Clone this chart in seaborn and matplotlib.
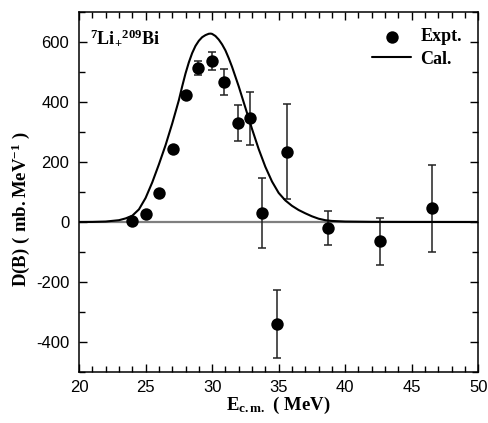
import numpy as np
import pandas as pd
import matplotlib
matplotlib.use("Agg")
import matplotlib.pyplot as plt
import seaborn as sns
from matplotlib.ticker import MultipleLocator

# Experimental points
expt_x = [24.0, 25.04, 26.04, 27.04, 28.02, 28.97, 29.97, 30.9, 31.95, 32.88,
          33.76, 34.86, 35.66, 38.74, 42.63, 46.56]
expt_y = [3, 27, 96, 245, 422, 513, 536, 466, 331, 346,
          30, -339, 235, -20, -65, 45]
expt_err = [0, 0, 0, 0, 0, 23, 30, 44, 60, 89,
            116, 113, 157, 58, 78, 145]

# Calculated curve
cal_x = [20.0, 21.0, 22.0, 23.0, 23.5, 24.0, 24.5, 25.0, 25.5, 26.0, 26.5, 27.0,
         27.5, 27.75, 28.0, 28.25, 28.5, 28.75, 29.0, 29.25, 29.5, 29.75, 29.9,
         30.0, 30.25, 30.5, 30.75, 31.0, 31.25, 31.5, 32.0, 32.5,
         33.0, 33.5, 34.0, 34.5, 35.0, 35.5, 36.0, 36.5, 37.0, 37.5, 38.0, 38.5,
         39.0, 40.0, 42.0, 45.0, 50.0]
cal_y = [0, 0.3, 1.5, 6, 12, 21, 42, 80, 132, 192, 256, 328,
         406, 452, 495, 532, 563, 587, 604, 616, 623, 627.5, 628,
         627, 620, 608, 592, 572, 546, 517, 452, 381,
         310, 243, 184, 135, 97, 72, 54, 40, 29, 19, 11, 6,
         3.5, 1.5, 0.5, 0.2, 0]

sns.set_style("ticks")
plt.rcParams['font.family'] = ['Liberation Sans', 'DejaVu Sans']
plt.rcParams['mathtext.fontset'] = 'custom'
plt.rcParams['mathtext.rm'] = 'Liberation Serif:bold'
plt.rcParams['mathtext.bf'] = 'Liberation Serif:bold'
plt.rcParams['mathtext.it'] = 'Liberation Serif:bold'
plt.rcParams['axes.unicode_minus'] = False
plt.rcParams['text.color'] = 'black'
plt.rcParams['axes.labelcolor'] = 'black'
plt.rcParams['xtick.color'] = 'black'
plt.rcParams['ytick.color'] = 'black'

fig = plt.figure(figsize=(4.88, 4.23), dpi=100)
ax = fig.add_axes([0.162, 0.1206, 0.818, 0.8510])

ax.axhline(0, color='#7f7f7f', lw=1.6, zorder=1)

df_cal = pd.DataFrame({'x': cal_x, 'y': cal_y})
df_exp = pd.DataFrame({'x': expt_x, 'y': expt_y, 'e': expt_err})

sns.lineplot(data=df_cal, x='x', y='y', ax=ax, color='black', lw=1.5,
             label='Cal.', zorder=3)
ax.errorbar(df_exp['x'], df_exp['y'], yerr=df_exp['e'], fmt='none',
            ecolor='#222222', elinewidth=1.1, capsize=2.8, capthick=1.1, zorder=2)
sns.scatterplot(data=df_exp, x='x', y='y', ax=ax, color='black', s=80,
                edgecolor='black', linewidth=0, label='Expt.', zorder=4)

ax.set_xlim(20, 50)
ax.set_ylim(-500, 700)
ax.xaxis.set_major_locator(MultipleLocator(5))
ax.xaxis.set_minor_locator(MultipleLocator(1))
ax.yaxis.set_major_locator(MultipleLocator(200))
ax.yaxis.set_minor_locator(MultipleLocator(100))
ax.tick_params(which='both', direction='in', top=True, right=True,
               labelsize=12, colors='black')
ax.tick_params(which='major', length=6, width=1)
ax.tick_params(which='minor', length=4, width=1)
ax.tick_params(axis='x', pad=6)
ax.tick_params(axis='y', pad=7)
for s in ax.spines.values():
    s.set_linewidth(1.1)
    s.set_color('black')

ax.set_xlabel(r'$\mathrm{E_{c.m.}\ (\ MeV)}$', fontsize=13.5, labelpad=0)
ax.set_ylabel(r'$\mathrm{D(B)\ (\ mb.MeV^{-1}\ )}$', fontsize=13.5)
ax.yaxis.set_label_coords(-0.118, 0.453)

ax.text(0.028, 0.955, r'$\mathrm{{}^{7}Li_{+}{}^{209}Bi}$', transform=ax.transAxes,
        ha='left', va='top', fontsize=13)

h, l = ax.get_legend_handles_labels()
order = [l.index('Expt.'), l.index('Cal.')]
leg = ax.legend([h[i] for i in order], [l[i] for i in order], loc='upper right',
                frameon=False, prop={'family': 'Liberation Serif', 'weight': 'bold', 'size': 13},
                handlelength=2.2, handletextpad=0.5, labelspacing=0.3,
                borderaxespad=0.5)

fig.savefig('out.png', dpi=100)
